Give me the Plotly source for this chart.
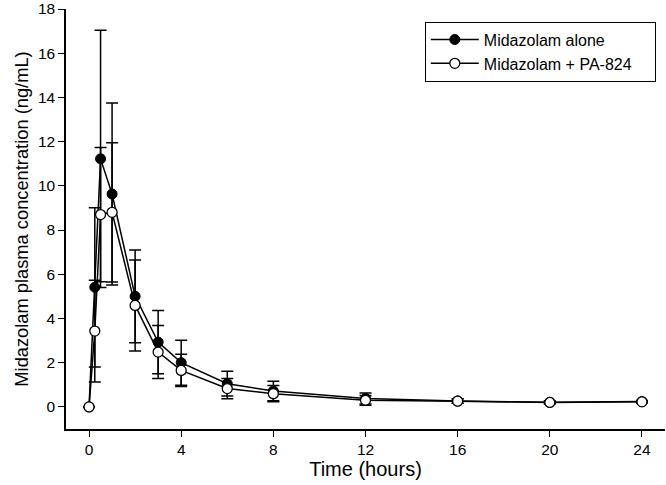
import plotly.graph_objects as go

time_h = [0, 0.25, 0.5, 1, 2, 3, 4, 6, 8, 12, 16, 20, 24]
alone_mean = [0, 5.41, 11.22, 9.63, 5.0, 2.93, 2.0, 1.05, 0.72, 0.38, 0.27, 0.21, 0.24]
alone_sd = [None, 3.6, 5.82, 4.12, 2.1, 1.43, 1.02, 0.56, 0.44, 0.25, 0.1, 0.07, 0.05]
pa_mean = [0, 3.43, 8.7, 8.8, 4.59, 2.48, 1.65, 0.83, 0.6, 0.3, 0.26, 0.2, 0.23]
pa_sd = [None, 2.3, 3.04, 3.15, 2.06, 1.2, 0.73, 0.46, 0.37, 0.22, 0.1, 0.06, 0.04]

series_names = ["Midazolam alone", "Midazolam + PA-824"]
x_ticks = [0, 4, 8, 12, 16, 20, 24]
y_ticks = [0, 2, 4, 6, 8, 10, 12, 14, 16, 18]

FONT = "Liberation Sans, Arial, sans-serif"
PAD = "\u00a0" * 4  # widen legend box on the right

fig = go.Figure()
fig.add_trace(go.Scatter(
    x=time_h, y=alone_mean, name=series_names[0], mode="lines+markers",
    line=dict(color="black", width=1.5),
    marker=dict(symbol="circle", size=10, color="black", line=dict(color="black", width=1)),
    error_y=dict(type="data", array=alone_sd, visible=True, color="black", thickness=1.5, width=6),
))
fig.add_trace(go.Scatter(
    x=time_h, y=pa_mean, name=series_names[1] + PAD, mode="lines+markers",
    line=dict(color="black", width=1.5),
    marker=dict(symbol="circle", size=10, color="white", line=dict(color="black", width=1.3)),
    error_y=dict(type="data", array=pa_sd, visible=True, color="black", thickness=1.5, width=6),
))

fig.update_layout(
    width=666, height=485,
    margin=dict(l=66, r=1, t=9, b=56),
    paper_bgcolor="white", plot_bgcolor="white",
    font=dict(family=FONT, color="black", size=16),
    showlegend=True,
    legend=dict(
        x=0.599, y=0.97, xanchor="left", yanchor="top",
        bgcolor="white", bordercolor="black", borderwidth=1,
        font=dict(size=16, family=FONT, color="black"),
        tracegroupgap=0, itemwidth=48,
    ),
)
fig.update_xaxes(
    range=[-1, 25], tickvals=x_ticks, ticktext=[str(v) for v in x_ticks],
    showline=True, linecolor="black", linewidth=1.5,
    ticks="outside", ticklen=6, tickwidth=1.2, tickcolor="black",
    showgrid=False, zeroline=False, automargin=False,
    tickfont=dict(size=15.5, family=FONT), ticklabeloverflow="allow",
    title=dict(text="Time (hours)", font=dict(size=20, family=FONT), standoff=4),
)
fig.update_yaxes(
    range=[-1, 18], tickvals=y_ticks, ticktext=[str(v) for v in y_ticks],
    showline=True, linecolor="black", linewidth=1.5,
    ticks="outside", ticklen=6, tickwidth=1.2, tickcolor="black",
    showgrid=False, zeroline=False, automargin=False,
    tickfont=dict(size=15.5, family=FONT), ticklabeloverflow="allow",
    title=dict(text="Midazolam plasma concentration (ng/mL)", font=dict(size=18.3, family=FONT), standoff=4),
)

fig.write_html(
    "out.html",
    config={"displayModeBar": False},
    post_script="document.body.style.margin='0';",
)
